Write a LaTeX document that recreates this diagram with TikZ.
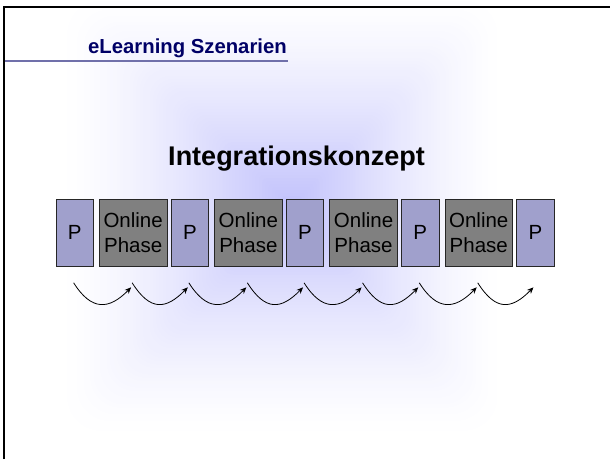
\documentclass[tikz,border=0pt]{standalone}
\usepackage{fontspec}
\setmainfont{Liberation Sans}
\usetikzlibrary{arrows.meta,calc}
\definecolor{lav}{RGB}{194,194,252}
\definecolor{pfill}{RGB}{160,160,204}
\definecolor{ofill}{RGB}{128,128,128}
\definecolor{navy}{RGB}{0,0,102}
\definecolor{uline}{RGB}{112,112,170}
\tikzset{
  boxbase/.style={draw=black!85, line width=0.8pt, inner sep=0pt, anchor=north west,
    minimum height=67pt, font=\fontsize{20.5}{24.5}\selectfont, align=center},
  pbox/.style={boxbase, fill=pfill, minimum width=37.5pt},
  obox/.style={boxbase, fill=ofill, minimum width=67.5pt},
  flowarrow/.style={line width=0.8pt, -{Stealth[length=6.5pt,width=5.5pt]}}
}
\begin{document}
\begin{tikzpicture}[x=1pt,y=-1pt]
\useasboundingbox (0,0) rectangle (610,459);
\fill[white] (0,0) rectangle (610,459);
% background gradient (rectangular, from focus)
\foreach \k in {0,...,69}{
  \pgfmathsetmacro{\s}{1-\k/70}
  \pgfmathsetmacro{\c}{100*(\k/69)^1.35}
  \pgfmathsetmacro{\rr}{\s*35}
  \fill[lav!\c!white, rounded corners=\rr pt] ($(292,205)+\s*(-231,-210)$) rectangle ($(292,205)+\s*(211,232)$);
}
% frame
\draw[line width=2.5pt] (4,459) -- (4,7) -- (610,7);
% header
\node[font=\bfseries\fontsize{20.3}{24}\selectfont, text=navy, anchor=base west, inner sep=0pt] (hdr) at (88,53) {eLearning Szenarien};
\draw[uline, line width=2pt] (5,61) -- (288,61);
% title
\node[font=\bfseries\fontsize{27}{31}\selectfont, anchor=base, inner sep=0pt] (ttl) at (296.5,165) {Integrationskonzept};
% boxes
\node[pbox] (p0) at (55.5,199) {P};
\node[obox] (o0) at (99,199) {Online\\Phase};
\node[pbox] (p1) at (170.7,199) {P};
\node[obox] (o1) at (214.2,199) {Online\\Phase};
\node[pbox] (p2) at (285.9,199) {P};
\node[obox] (o2) at (329.4,199) {Online\\Phase};
\node[pbox] (p3) at (401.1,199) {P};
\node[obox] (o3) at (444.6,199) {Online\\Phase};
\node[pbox] (p4) at (516.3,199) {P};
% arrows
\foreach \a/\b in {p0/o0,o0/p1,p1/o1,o1/p2,p2/o2,o2/p3,p3/o3,o3/p4}{
  \coordinate (s\a) at ($(\a.south)+(-1,16)$);
  \coordinate (e\a) at ($(\b.south)+(-2,20.5)$);
  \draw[flowarrow] (s\a) .. controls +(18,28.5) and +(-22,22.5) .. (e\a);
}
\end{tikzpicture}
\end{document}
